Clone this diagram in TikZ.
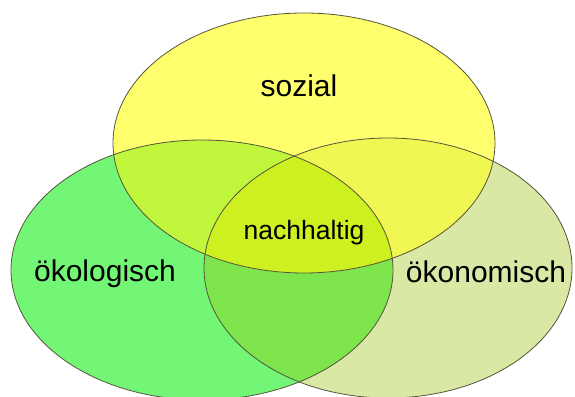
\documentclass[tikz,border=0pt]{standalone}
\usepackage{fontspec}
\setmainfont{Liberation Sans}
\definecolor{socfill}{RGB}{255,255,110}
\definecolor{ecofill}{RGB}{115,246,118}
\definecolor{econfill}{RGB}{218,232,165}
\definecolor{soceco}{RGB}{192,246,60}
\definecolor{socecon}{RGB}{240,246,82}
\definecolor{ecoecon}{RGB}{126,230,76}
\definecolor{allthree}{RGB}{205,240,32}
\definecolor{rim}{RGB}{85,85,60}
\begin{document}
\begin{tikzpicture}[x=1pt,y=1pt,
  rimline/.style={draw=rim,line width=0.8pt},
  biglabel/.style={anchor=base,inner sep=0pt,font=\fontsize{30}{36}\selectfont},
  midlabel/.style={anchor=base,inner sep=0pt,font=\fontsize{26.5}{32}\selectfont}]
\useasboundingbox (0,0) rectangle (575,396);
% centres of the three circles
\coordinate (S) at (304,253);
\coordinate (E) at (202,126);
\coordinate (W) at (388,128);
% base fills
\fill[econfill] (W) ellipse [x radius=184pt, y radius=130pt];
\fill[ecofill] (E) ellipse [x radius=191pt, y radius=130pt];
\fill[socfill] (S) ellipse [x radius=191pt, y radius=130pt];
% ecological and economic overlap
\begin{scope}
  \clip (E) ellipse [x radius=191pt, y radius=130pt];
  \fill[ecoecon] (W) ellipse [x radius=184pt, y radius=130pt];
\end{scope}
% overlaps with the social circle
\begin{scope}
  \clip (S) ellipse [x radius=191pt, y radius=130pt];
  \fill[soceco] (E) ellipse [x radius=191pt, y radius=130pt];
  \fill[socecon] (W) ellipse [x radius=184pt, y radius=130pt];
  \clip (E) ellipse [x radius=191pt, y radius=130pt];
  \fill[allthree] (W) ellipse [x radius=184pt, y radius=130pt];
\end{scope}
% outlines
\path[rimline] (W) ellipse [x radius=184pt, y radius=130pt];
\path[rimline] (E) ellipse [x radius=191pt, y radius=130pt];
\path[rimline] (S) ellipse [x radius=191pt, y radius=130pt];
% labels
\node[biglabel] (sozial) at (299,299) {sozial};
\node[biglabel] (oekol) at (105,114) {ökologisch};
\node[biglabel] (oekon) at (486,113) {ökonomisch};
\node[midlabel] (nachh) at (304,156) {nachhaltig};
\end{tikzpicture}
\end{document}
